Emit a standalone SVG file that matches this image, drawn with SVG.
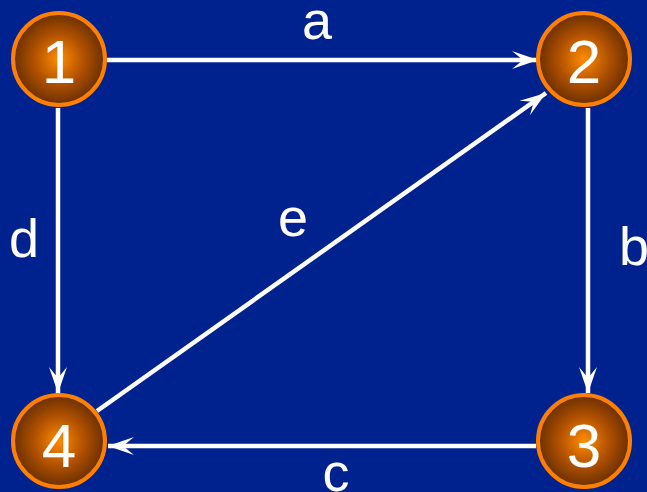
<svg xmlns="http://www.w3.org/2000/svg" width="647" height="492" viewBox="0 0 647 492">
  <defs>
    <radialGradient id="ball" cx="50%" cy="50%" r="50%">
      <stop offset="0" stop-color="#FF8C00"/>
      <stop offset="0.55" stop-color="#B05000"/>
      <stop offset="1" stop-color="#6A3000"/>
    </radialGradient>
    <marker id="arr" markerUnits="userSpaceOnUse" markerWidth="28" markerHeight="20" viewBox="-27 -10 28 20" refX="0" refY="0" orient="auto">
      <path d="M0,0 L-26,-9 L-15,0 L-26,9 Z" fill="#FFFFFF"/>
    </marker>
  </defs>
  <style>
    .node circle { fill: url(#ball); stroke: #FF8000; stroke-width: 4; }
    .node text { font-family: "Liberation Sans", Arial, sans-serif; font-size: 62px; fill: #FFFFFF; text-anchor: middle; }
    .edge { stroke: #FFFFFF; stroke-width: 4.5; fill: none; }
    .lbl { font-family: "Liberation Sans", Arial, sans-serif; font-size: 54px; fill: #FFFFFF; text-anchor: middle; }
  </style>
  <rect x="0" y="0" width="647" height="492" fill="#00228E"/>
  <g id="connectors">
    <line class="edge" x1="107" y1="60" x2="538" y2="60" marker-end="url(#arr)"/>
    <line class="edge" x1="588" y1="108" x2="588" y2="393" marker-end="url(#arr)"/>
    <line class="edge" x1="536" y1="446" x2="108" y2="446" marker-end="url(#arr)"/>
    <line class="edge" x1="58" y1="108" x2="58" y2="393" marker-end="url(#arr)"/>
    <line class="edge" x1="97" y1="411" x2="546" y2="93" marker-end="url(#arr)"/>
    <text class="lbl" x="317" y="39">a</text>
    <text class="lbl" x="634" y="265">b</text>
    <text class="lbl" x="336" y="491">c</text>
    <text class="lbl" x="24" y="257">d</text>
    <text class="lbl" x="293" y="236">e</text>
  </g>
  <g id="node1" class="node">
    <circle cx="59" cy="59" r="46"/>
    <text x="59" y="83">1</text>
  </g>
  <g id="node2" class="node">
    <circle cx="584" cy="59" r="46"/>
    <text x="584" y="83">2</text>
  </g>
  <g id="node3" class="node">
    <circle cx="584" cy="441" r="46"/>
    <text x="584" y="467">3</text>
  </g>
  <g id="node4" class="node">
    <circle cx="59" cy="441" r="46"/>
    <text x="59" y="467">4</text>
  </g>
</svg>
